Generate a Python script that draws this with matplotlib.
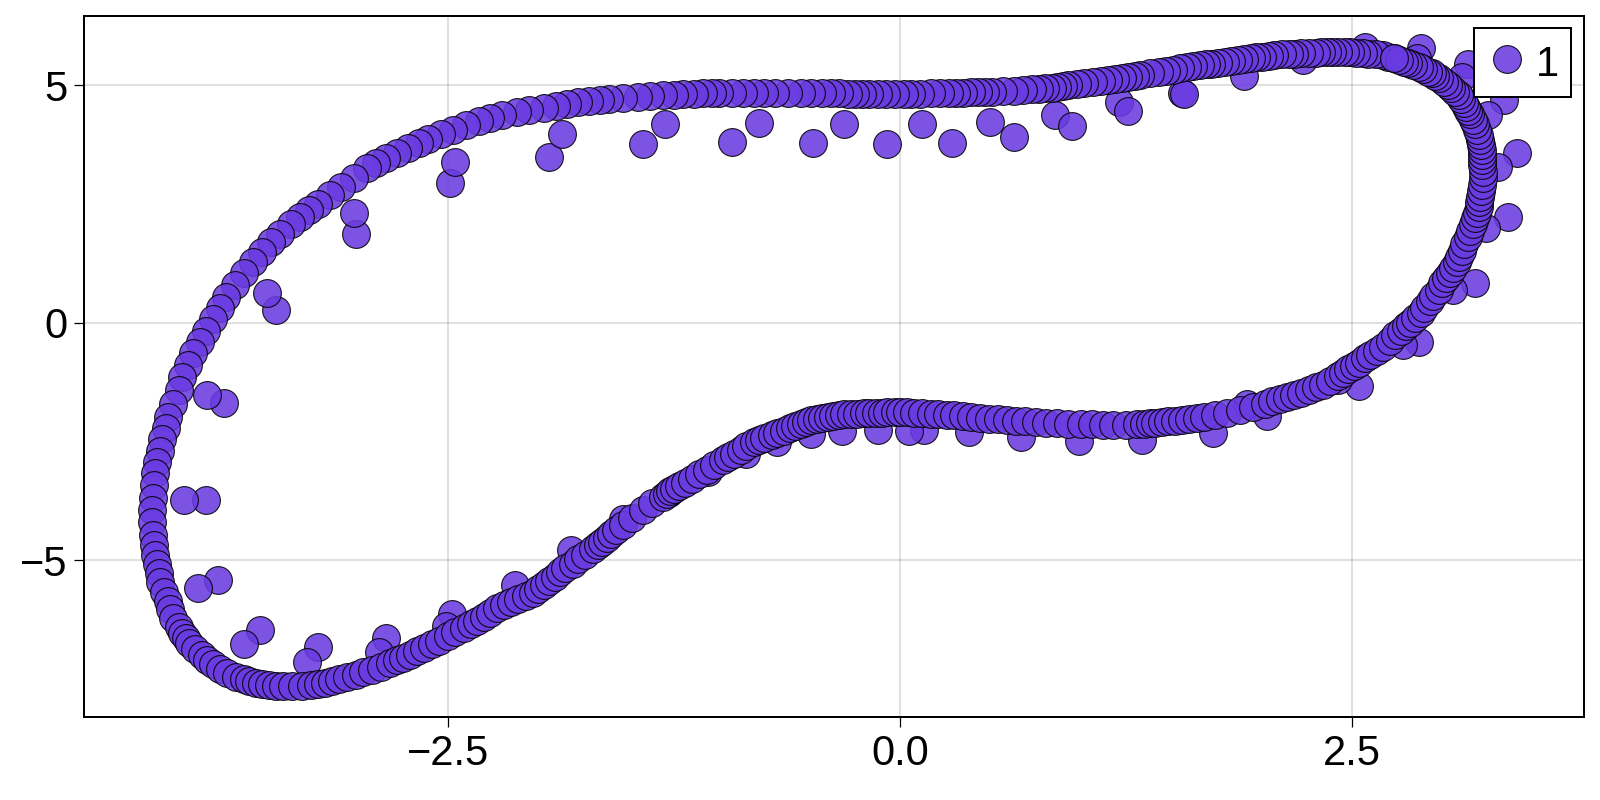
import matplotlib
matplotlib.use("Agg")
import matplotlib.pyplot as plt

plt.rcParams['font.family'] = ['Liberation Sans', 'DejaVu Sans']

# main loop, in drawing order (last one of each row ends up on top)
loop_x = [2.73,2.70,2.67,2.63,2.59, 2.56,2.52,2.49,2.46,2.42, 2.39,2.36,2.33,2.30,2.26, 2.22,2.18,2.15,2.11,2.07,
          2.04,2.00,1.97,1.94,1.90, 1.87,1.83,1.80,1.76,1.72, 1.69,1.66,1.62,1.59,1.55, 1.51,1.47,1.43,1.38,1.33,
          1.30,1.26,1.23,1.19,1.15, 1.11,1.07,1.02,0.98,0.93, 0.90,0.87,0.84,0.80,0.77, 0.73,0.68,0.63,0.57,0.51,
          0.47,0.43,0.39,0.35,0.31, 0.27,0.22,0.17,0.11,0.06, 0.02,-0.03,-0.08,-0.12,-0.17, -0.21,-0.25,-0.29,-0.34,-0.38,
          -0.43,-0.49,-0.55,-0.62,-0.69, -0.75,-0.81,-0.87,-0.93,-1.00, -1.04,-1.09,-1.14,-1.20,-1.25, -1.31,-1.38,-1.45,-1.53,-1.61,
          -1.66,-1.72,-1.78,-1.84,-1.90, -1.97,-2.05,-2.12,-2.20,-2.27, -2.33,-2.40,-2.47,-2.54,-2.61, -2.66,-2.72,-2.78,-2.84,-2.90,
          -2.95,-3.02,-3.09,-3.15,-3.22, -3.27,-3.32,-3.37,-3.43,-3.48, -3.53,-3.58,-3.63,-3.68,-3.73, -3.76,-3.80,-3.84,-3.87,-3.91,
          -3.94,-3.97,-3.99,-4.02,-4.05, -4.06,-4.08,-4.09,-4.11,-4.12, -4.125,-4.13,-4.135,-4.135,-4.13, -4.125,-4.12,-4.11,-4.10,-4.09,
          -4.07,-4.05,-4.04,-4.02,-3.99, -3.97,-3.95,-3.93,-3.90,-3.86, -3.83,-3.80,-3.76,-3.72,-3.67, -3.63,-3.60,-3.56,-3.53,-3.49,
          -3.45,-3.41,-3.36,-3.31,-3.26, -3.22,-3.18,-3.14,-3.10,-3.06, -3.01,-2.97,-2.92,-2.87,-2.82, -2.78,-2.75,-2.71,-2.67,-2.63,
          -2.59,-2.55,-2.50,-2.46,-2.41, -2.37,-2.34,-2.30,-2.27,-2.23, -2.19,-2.15,-2.11,-2.07,-2.03, -2.00,-1.97,-1.94,-1.91,-1.88,
          -1.85,-1.81,-1.78,-1.74,-1.70, -1.67,-1.65,-1.62,-1.60,-1.57, -1.53,-1.48,-1.42,-1.37,-1.31, -1.29,-1.27,-1.25,-1.22,-1.19,
          -1.15,-1.11,-1.07,-1.03,-0.98, -0.95,-0.92,-0.88,-0.85,-0.81, -0.78,-0.75,-0.71,-0.68,-0.64, -0.61,-0.58,-0.55,-0.52,-0.49,
          -0.46,-0.43,-0.40,-0.37,-0.34, -0.31,-0.27,-0.24,-0.20,-0.17, -0.13,-0.10,-0.07,-0.03,0.00, 0.04,0.08,0.12,0.17,0.21,
          0.26,0.30,0.35,0.39,0.44, 0.49,0.54,0.59,0.64,0.69, 0.75,0.81,0.87,0.93,1.00, 1.06,1.12,1.18,1.25,1.31,
          1.35,1.38,1.41,1.45,1.48, 1.52,1.56,1.60,1.64,1.68, 1.74,1.81,1.88,1.95,2.02, 2.06,2.10,2.14,2.18,2.22,
          2.26,2.30,2.34,2.38,2.42, 2.45,2.48,2.51,2.54,2.57, 2.60,2.64,2.67,2.71,2.74, 2.77,2.80,2.82,2.85,2.88,
          2.90,2.93,2.95,2.98,3.00, 3.02,3.04,3.06,3.08,3.09, 3.11,3.12,3.14,3.15,3.17, 3.18,3.19,3.20,3.20,3.21,
          3.215,3.22,3.225,3.225,3.22, 3.22,3.22,3.22,3.215,3.21, 3.20,3.19,3.18,3.17,3.15, 3.14,3.13,3.12,3.10,3.09,
          3.07,3.05,3.03,3.01,2.98, 2.96,2.94,2.92,2.89,2.87, 2.84,2.81,2.79,2.76,2.73]
loop_y = [5.57,5.60,5.63,5.65,5.67, 5.68,5.69,5.70,5.70,5.70, 5.70,5.70,5.70,5.69,5.68, 5.68,5.67,5.66,5.65,5.63,
          5.62,5.60,5.59,5.57,5.55, 5.54,5.52,5.50,5.48,5.45, 5.44,5.42,5.40,5.38,5.36, 5.33,5.31,5.28,5.25,5.22,
          5.20,5.18,5.16,5.14,5.12, 5.10,5.07,5.05,5.02,5.00, 4.98,4.97,4.95,4.94,4.93, 4.92,4.90,4.89,4.88,4.86,
          4.86,4.85,4.85,4.84,4.84, 4.83,4.83,4.83,4.82,4.82, 4.82,4.82,4.82,4.82,4.82, 4.82,4.82,4.82,4.83,4.83,
          4.83,4.83,4.83,4.83,4.83, 4.83,4.83,4.83,4.84,4.84, 4.83,4.83,4.82,4.81,4.80, 4.79,4.78,4.76,4.74,4.72,
          4.70,4.68,4.65,4.61,4.57, 4.53,4.48,4.44,4.38,4.32, 4.25,4.17,4.07,3.97,3.87, 3.79,3.69,3.58,3.47,3.37,
          3.25,3.05,2.87,2.70,2.51, 2.37,2.22,2.07,1.88,1.71, 1.50,1.27,1.05,0.80,0.54, 0.32,0.08,-0.18,-0.40,-0.63,
          -0.88,-1.15,-1.42,-1.70,-1.98, -2.22,-2.45,-2.70,-2.93,-3.17, -3.42,-3.68,-3.95,-4.20,-4.47, -4.68,-4.88,-5.08,-5.27,-5.46,
          -5.66,-5.85,-6.02,-6.22,-6.41, -6.53,-6.64,-6.74,-6.87,-7.00, -7.10,-7.19,-7.28,-7.37,-7.46, -7.51,-7.55,-7.58,-7.61,-7.63,
          -7.64,-7.65,-7.65,-7.64,-7.62, -7.60,-7.58,-7.55,-7.51,-7.46, -7.41,-7.36,-7.30,-7.24,-7.17, -7.11,-7.05,-6.99,-6.92,-6.85,
          -6.77,-6.69,-6.60,-6.52,-6.43, -6.35,-6.28,-6.20,-6.10,-6.01, -5.94,-5.88,-5.82,-5.76,-5.68, -5.60,-5.52,-5.44,-5.35,-5.25,
          -5.17,-5.07,-4.98,-4.88,-4.77, -4.68,-4.62,-4.53,-4.45,-4.36, -4.25,-4.12,-3.95,-3.80,-3.66, -3.60,-3.55,-3.50,-3.44,-3.37,
          -3.28,-3.19,-3.10,-3.00,-2.89, -2.83,-2.76,-2.68,-2.60,-2.51, -2.47,-2.42,-2.37,-2.32,-2.27, -2.22,-2.18,-2.13,-2.09,-2.05,
          -2.03,-2.00,-1.98,-1.96,-1.94, -1.93,-1.92,-1.91,-1.90,-1.90, -1.89,-1.89,-1.88,-1.88,-1.88, -1.88,-1.89,-1.90,-1.91,-1.92,
          -1.94,-1.95,-1.97,-1.99,-2.01, -2.02,-2.03,-2.05,-2.06,-2.07, -2.09,-2.10,-2.11,-2.13,-2.14, -2.14,-2.15,-2.15,-2.15,-2.14,
          -2.13,-2.12,-2.11,-2.09,-2.07, -2.06,-2.05,-2.03,-2.01,-1.99, -1.95,-1.90,-1.84,-1.77,-1.70, -1.65,-1.61,-1.57,-1.52,-1.47,
          -1.42,-1.36,-1.30,-1.22,-1.12, -1.05,-0.98,-0.91,-0.85,-0.75, -0.68,-0.59,-0.50,-0.38,-0.26, -0.17,-0.07,0.00,0.10,0.20,
          0.32,0.45,0.57,0.70,0.84, 0.95,1.05,1.15,1.27,1.38, 1.52,1.66,1.80,1.94,2.08, 2.20,2.31,2.43,2.54,2.65,
          2.78,2.90,3.04,3.18,3.32, 3.43,3.54,3.64,3.75,3.85, 3.96,4.07,4.18,4.28,4.39, 4.47,4.55,4.63,4.71,4.79,
          4.87,4.94,5.01,5.08,5.15, 5.20,5.25,5.29,5.34,5.38, 5.43,5.47,5.50,5.54,5.57]

# points sitting off the loop
stray_x = [-2.49,-2.46,-1.94,-1.87,-1.42,-1.30,-0.93,-0.78,-0.48,-0.31,-0.07,0.12,0.29,0.50,0.63,0.86,0.95,1.21,1.26,1.56,
           1.57,1.90,2.23,2.57,2.88,2.86,3.14,3.11,3.34,3.25,3.41,3.31,3.36,3.24,3.18,3.06,2.87,2.78,2.54,2.42,
           2.03,1.92,1.73,1.34,0.99,0.67,0.38,0.13,0.05,-0.12,-0.32,-0.49,-0.68,-0.85,-1.06,-1.28,-1.53,-1.82,-2.13,-2.48,
           -2.51,-2.84,-2.88,-3.22,-3.28,-3.54,-3.63,-3.77,-3.88,-3.84,-3.96,-3.74,-3.83,-3.45,-3.50,-3.01,-3.02]
stray_y = [2.94,3.39,3.50,3.97,3.76,4.19,3.80,4.21,3.78,4.19,3.76,4.19,3.78,4.23,3.91,4.38,4.15,4.64,4.45,4.84,
           4.82,5.20,5.53,5.80,5.78,5.57,5.45,5.17,4.69,4.37,3.57,3.28,2.23,1.99,0.84,0.69,-0.41,-0.47,-1.34,-1.21,
           -1.97,-1.71,-2.31,-2.46,-2.48,-2.40,-2.29,-2.25,-2.27,-2.25,-2.27,-2.35,-2.50,-2.76,-3.15,-3.59,-4.13,-4.79,-5.53,-6.13,
           -6.39,-6.63,-6.93,-6.82,-7.15,-6.46,-6.76,-5.42,-5.59,-3.74,-3.74,-1.68,-1.53,0.28,0.63,1.88,2.31]

xticks = [-2.5, 0.0, 2.5]
xticklabels = ['\u22122.5', '0.0', '2.5']
yticks = [-5, 0, 5]
yticklabels = ['\u22125', '0', '5']

color = '#6a3be0'

fig = plt.figure(figsize=(16, 8), dpi=100)
ax = fig.add_axes([84/1600, 1-717/800, 1500/1600, 701/800])

ax.scatter(stray_x + loop_x, stray_y + loop_y, s=400, color=color, alpha=0.88,
           edgecolors='black', linewidths=0.8, label='1', zorder=3)

ax.set_xlim(-4.513, 3.783)
ax.set_ylim(-8.30, 6.46)
ax.set_xticks(xticks)
ax.set_xticklabels(xticklabels)
ax.set_yticks(yticks)
ax.set_yticklabels(yticklabels)
ax.tick_params(labelsize=30, length=7.2, width=0.9, pad=5)
ax.grid(True, color='#000000', alpha=0.12, linewidth=1.5)
ax.set_axisbelow(True)
for s in ax.spines.values():
    s.set_linewidth(1.44)

leg = ax.legend(loc='upper right', bbox_to_anchor=(1571/1600, 1-28/800), bbox_transform=fig.transFigure,
                fontsize=30, fancybox=False, framealpha=1, edgecolor='black', borderaxespad=0,
                handletextpad=0.19, borderpad=0.29, handlelength=1.0, handleheight=1.2, scatterpoints=1)
leg.get_frame().set_linewidth(1.44)
leg.set_zorder(5)

plt.savefig('out.png', dpi=100)
